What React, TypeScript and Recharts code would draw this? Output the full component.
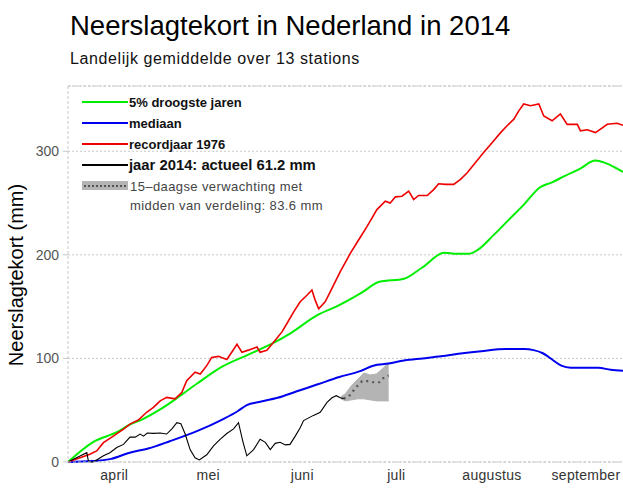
import { ComposedChart, Line, Area, XAxis, YAxis, CartesianGrid } from 'recharts';

// days counted from 1 april 2014
const monthNames = ['april', 'mei', 'juni', 'juli', 'augustus', 'september'];
const monthStarts = [0, 30, 61, 91, 122, 153];
const monthMids = [15, 45.5, 76, 106.5, 137.5, 168];
const yTicks = [0, 100, 200, 300];

const greenDays = [0, 8, 16, 20, 24, 30, 35, 42, 50, 58, 66, 72, 81, 87, 95, 101, 109, 115, 122, 126, 130, 133, 138, 143, 148, 153, 157, 161, 166, 171, 174, 177, 180];
const greenMm = [0, 19, 29, 36, 41, 51, 61, 76, 92, 103, 114, 124, 142, 150, 163, 174, 177, 188, 202, 201, 201, 205, 219, 234, 249, 265, 270, 276, 283, 291, 289, 285, 280];

const blueDays = [0, 8, 14, 20, 26, 33, 42, 50, 55, 58, 62, 68, 74, 81, 88, 95, 99, 104, 109, 115, 121, 128, 134, 142, 148, 151, 154, 157, 160, 163, 168, 172, 176, 180];
const blueMm = [0, 1, 3, 9, 13, 20, 30, 41, 49, 55, 58, 62, 68, 75, 82, 88, 93, 95, 98, 100, 102, 105, 107, 109, 109, 108, 105, 99, 93, 91, 91, 91, 89, 88];

const redDays = [0, 3.9, 7.1, 9.3, 11.5, 14.7, 18, 20.1, 22.8, 25.5, 27.7, 29.9, 32, 34.7, 36.9, 38.5, 41.2, 42.9, 45, 46.6, 48.8, 51.5, 53.1, 54.8, 56.4, 58.5, 61.3, 62.3, 64.5, 67.2, 69.4, 71, 73.2, 75.3, 77.5, 79.1, 80.2, 81.3, 83.4, 85, 88.3, 91.6, 94.3, 97, 100.2, 102.9, 104.5, 106.2, 108.3, 110.5, 112.1, 113.7, 116.5, 118.6, 120.2, 122.4, 125.1, 127.3, 129.4, 132.1, 134.8, 137.6, 140.3, 142.4, 144.6, 146.2, 147.8, 150, 152.7, 154.3, 157, 159.7, 161.9, 165.2, 166.2, 168.4, 171.1, 174.9, 178.1, 180];
const redMm = [0, 4, 7.5, 10.7, 18.7, 25, 31.7, 36.6, 40.5, 48, 52.7, 59, 62.4, 61, 67, 78.6, 86.7, 85, 93, 101, 102, 99, 106, 113.6, 106, 108, 111, 106, 107.8, 117.5, 125.6, 133.7, 145, 154.7, 161, 166, 156, 148, 154.7, 164, 183.8, 201.6, 214.6, 227.5, 243.7, 251.8, 250, 256, 256.6, 261.5, 253.4, 257.3, 257.3, 263, 268.6, 268, 268, 272.8, 279, 289, 298.7, 308.4, 318, 324.6, 331, 339, 345.6, 344, 345.6, 334, 329.4, 336, 326, 326, 319.7, 320.7, 318, 326, 327, 325];

const blackDays = [0, 3.4, 6.1, 6.6, 7.1, 8.2, 9.3, 11.5, 13.6, 15.8, 18, 20.1, 21.8, 23.4, 24.5, 25.7, 27.7, 29.9, 32, 33.7, 35.3, 36.6, 38, 39.6, 41.2, 42.6, 45, 47.2, 49.4, 51.5, 53.7, 55.3, 56.7, 58, 60.2, 62.3, 64, 65.6, 67.2, 68.8, 70.5, 72, 73.7, 75.3, 76.4, 79.6, 81.8, 84, 85.6, 87, 88.3, 89.4];
const blackMm = [0, 5, 9, 1, 0, 0, 2, 6, 9, 14, 17, 24, 24, 27, 25, 28, 27.6, 28, 27, 32, 38, 37, 27, 12, 4, 2, 7, 15.5, 22, 27.5, 32, 38, 20, 6, 12, 22, 19, 12, 18, 19, 16.5, 17, 25, 33, 40, 45, 48, 57.6, 62, 64, 62, 61.2];

const fcDays = [89.4, 91, 92.6, 93.7, 95.4, 97.4, 99, 101, 102.6, 104];
const fcMm = [61.2, 63, 69, 73, 78, 78, 77, 77, 82, 83.6];

const bandDays = [88.5, 90, 92, 94, 96, 98, 100, 102, 104];
const bandLow = [61, 59, 60, 61, 61, 60, 59, 59, 59];
const bandHigh = [63, 66, 74, 80, 86, 84, 85, 90, 96];

const pts = (days: number[], vals: number[]) => days.map((d, i) => ({ d, v: vals[i] }));
const bandData = bandDays.map((d, i) => ({ d, range: [bandLow[i], bandHigh[i]] }));

const font = '"Liberation Sans", Arial, Helvetica, sans-serif';
const grid = '#c8c8c8';

const legendRows = [
  { label: '5% droogste jaren', color: '#00ee00', top: 93, size: 13 },
  { label: 'mediaan', color: '#0000ee', top: 114, size: 13 },
  { label: 'recordjaar 1976', color: '#ee0000', top: 135, size: 13 },
  { label: 'jaar 2014: actueel 61.2 mm', color: '#000000', top: 156, size: 14.8 },
];

export default function App() {
  return (
    <div style={{ position: 'relative', width: 623, height: 496, fontFamily: font, background: '#fff' }}>
      <style>{'body{margin:0}'}</style>
      <ComposedChart width={623} height={496} margin={{ top: 86, right: 0, bottom: 0, left: 0 }}>
        <CartesianGrid vertical={false} stroke={grid} strokeDasharray="2 2" yAxisId="mm" xAxisId="ticks" />
        <XAxis xAxisId="top" orientation="top" type="number" dataKey="d" domain={[0, 180]} ticks={monthStarts}
          height={1} mirror tick={false} tickSize={4} stroke={grid} axisLine={{ strokeDasharray: '3 2' }} />
        <XAxis xAxisId="ticks" type="number" dataKey="d" domain={[0, 180]} ticks={monthStarts}
          height={1} mirror tick={false} tickSize={4} stroke={grid} axisLine={{ strokeDasharray: '3 2' }} />
        <XAxis xAxisId="labels" type="number" dataKey="d" domain={[0, 180]} ticks={monthMids}
          height={34} axisLine={false} tickLine={false} tickSize={0} tickMargin={8}
          tickFormatter={(v: number) => monthNames[monthMids.indexOf(v)]}
          tick={{ fill: '#333', fontSize: 14, letterSpacing: 0.3, fontFamily: font }} />
        <YAxis yAxisId="mm" type="number" domain={[0, 363]} ticks={yTicks} width={68}
          tickSize={5} tickMargin={4} stroke={grid} axisLine={{ strokeDasharray: '3 2' }}
          tick={{ fill: '#555', fontSize: 14, fontFamily: font }} />
        <Area xAxisId="ticks" yAxisId="mm" data={bandData} dataKey="range" type="linear"
          fill="#b4b4b4" fillOpacity={1} stroke="#b4b4b4" strokeWidth={1} isAnimationActive={false} />
        <Line xAxisId="top" yAxisId="mm" data={pts(fcDays, fcMm)} dataKey="v" type="linear"
          stroke="#555" strokeWidth={2.2} strokeDasharray="2 4" dot={false} isAnimationActive={false} />
        <Line xAxisId="labels" yAxisId="mm" data={pts(greenDays, greenMm)} dataKey="v" type="monotone"
          stroke="#00ee00" strokeWidth={2} dot={false} isAnimationActive={false} />
        <Line xAxisId="labels" yAxisId="mm" data={pts(blueDays, blueMm)} dataKey="v" type="monotone"
          stroke="#0000ee" strokeWidth={2} dot={false} isAnimationActive={false} />
        <Line xAxisId="labels" yAxisId="mm" data={pts(redDays, redMm)} dataKey="v" type="linear"
          stroke="#ee0000" strokeWidth={1.6} dot={false} isAnimationActive={false} />
        <Line xAxisId="labels" yAxisId="mm" data={pts(blackDays, blackMm)} dataKey="v" type="linear"
          stroke="#000" strokeWidth={1.1} dot={false} isAnimationActive={false} />
      </ComposedChart>

      <div style={{ position: 'absolute', left: 70, top: 12, fontSize: 27.5, lineHeight: '28px', color: '#000', whiteSpace: 'nowrap' }}>
        Neerslagtekort in Nederland in 2014
      </div>
      <div style={{ position: 'absolute', left: 70, top: 51, fontSize: 16, lineHeight: '16px', letterSpacing: 0.6, color: '#111', whiteSpace: 'nowrap' }}>
        Landelijk gemiddelde over 13 stations
      </div>
      <div style={{ position: 'absolute', left: 16, top: 275, transform: 'translate(-50%, -50%) rotate(-90deg)', fontSize: 20, lineHeight: '20px', color: '#000', whiteSpace: 'nowrap' }}>
        Neerslagtekort (mm)
      </div>

      {legendRows.map((r) => (
        <div key={r.label} style={{ position: 'absolute', left: 82, top: r.top, height: 18, display: 'flex', alignItems: 'center', whiteSpace: 'nowrap' }}>
          <div style={{ width: 46, height: 2, background: r.color }} />
          <span style={{ marginLeft: 1, fontSize: r.size, fontWeight: 'bold', color: '#111' }}>{r.label}</span>
        </div>
      ))}
      <div style={{ position: 'absolute', left: 82, top: 177, whiteSpace: 'nowrap', display: 'flex' }}>
        <div style={{ width: 46, height: 9, marginTop: 4, background: '#b4b4b4', position: 'relative' }}>
          <div style={{ position: 'absolute', left: 2, right: 2, top: 3.5, borderTop: '2px dotted #555' }} />
        </div>
        <div style={{ marginLeft: 2, fontSize: 13, lineHeight: '19px', letterSpacing: 0.4, color: '#444' }}>
          15–daagse verwachting met<br />midden van verdeling: 83.6 mm
        </div>
      </div>
    </div>
  );
}
